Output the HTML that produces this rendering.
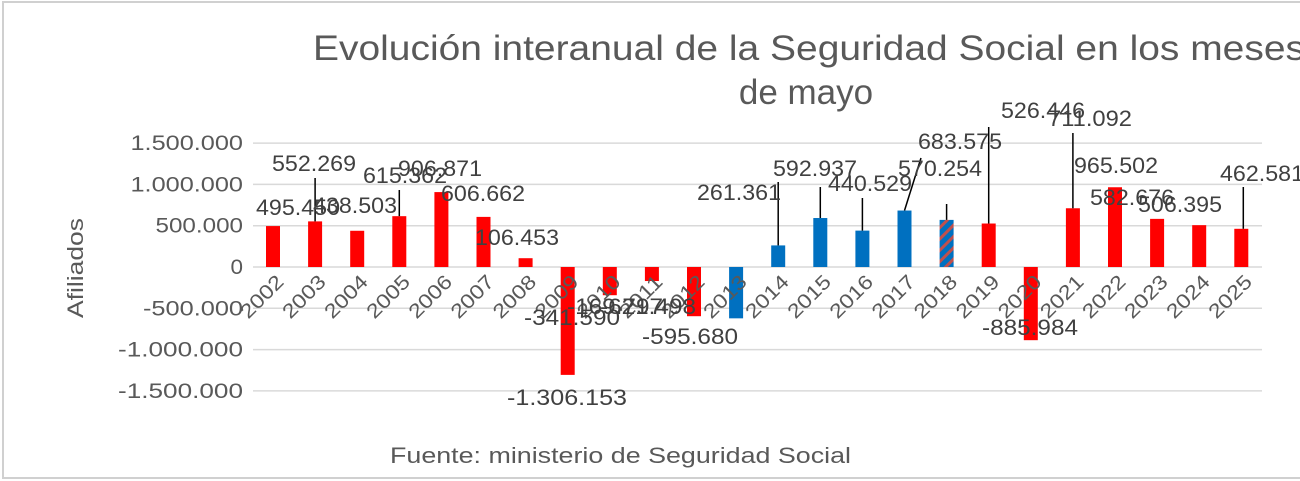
<!DOCTYPE html>
<html><head><meta charset="utf-8"><style>
body{margin:0;background:#fff;}
svg{display:block;font-family:"Liberation Sans","DejaVu Sans",sans-serif;}
</style></head><body>
<svg id="chart" width="1300" height="481" viewBox="0 0 1300 481">
<defs><pattern id="hatch" patternUnits="userSpaceOnUse" width="8" height="8" patternTransform="rotate(45)"><rect width="8" height="8" fill="#0070c0"/><rect width="3" height="8" fill="#c0504d"/></pattern></defs>
<rect x="3" y="2" width="1300" height="476" fill="#fff" stroke="#d0d0d0" stroke-width="2"/>
<text x="313" y="60" font-size="35" fill="#595959" textLength="992" lengthAdjust="spacingAndGlyphs">Evolución interanual de la Seguridad Social en los meses</text>
<text x="806" y="104" font-size="35" fill="#595959" text-anchor="middle">de mayo</text>
<text transform="translate(83,268) rotate(-90)" font-size="22" fill="#595959" text-anchor="middle" textLength="100" lengthAdjust="spacingAndGlyphs">Afiliados</text>
<text x="390" y="463" font-size="22" fill="#595959" textLength="461" lengthAdjust="spacingAndGlyphs">Fuente: ministerio de Seguridad Social</text>
<g id="grid"></g><g id="bars"></g><g id="leaders"></g><g id="labels"></g>
</svg>
<script>
const years = ["2002","2003","2004","2005","2006","2007","2008","2009","2010","2011","2012","2013","2014","2015","2016","2017","2018","2019","2020","2021","2022","2023","2024","2025"];
const values = [495450,552269,438503,615362,906871,606662,106453,-1306153,-341590,-169797,-595680,-621498,261361,592937,440529,683575,570254,526446,-885984,711092,965502,582676,506395,462581];
const valueLabels = ["495.450","552.269","438.503","615.362","906.871","606.662","106.453","-1.306.153","-341.590","-169.797","-595.680","-621.498","261.361","592.937","440.529","683.575","570.254","526.446","-885.984","711.092","965.502","582.676","506.395","462.581"];
const yTicks = [1500000,1000000,500000,0,-500000,-1000000,-1500000];
const yTickLabels = ["1.500.000","1.000.000","500.000","0","-500.000","-1.000.000","-1.500.000"];
const colorGroup = ["r","r","r","r","r","r","r","r","r","r","r","b","b","b","b","b","h","r","r","r","r","r","r","r"];
// label layout (pixel positions, not data)
const labelPos = [[298,214],[314,170],[355,212],[405,182],[440,175],[483,200],[517,244],[567,404],[572,324],[615,313],[690,343],[648,313],[739,199],[815,175],[870,190],[960,148],[940,175],[1043,117],[1030,334],[1090,125],[1116,172],[1132,204],[1180,211],[1262,180]];
const leaderTop = {1:178,3:190,12:182,13:187,14:198,15:158,16:204,17:127,19:133,23:187};

const NS="http://www.w3.org/2000/svg";
const x0=273, step=42.1, zeroY=267, pxPer=41.3/500000, barW=14;
const xs=i=>x0+i*step, ys=v=>zeroY - v*pxPer;
function mk(t,a,p){const e=document.createElementNS(NS,t);for(const k in a)e.setAttribute(k,a[k]);p.appendChild(e);return e;}
const grid=document.getElementById('grid'),bars=document.getElementById('bars'),lead=document.getElementById('leaders'),labs=document.getElementById('labels');
yTicks.forEach((t,i)=>{
  const l=mk('line',{x1:253,x2:1262,y1:ys(t),y2:ys(t),stroke:'#d9d9d9','stroke-width':1.5},grid);
  
  
  const s=yTickLabels[i];
  const tx=mk('text',{x:243,y:ys(t)+7,'font-size':21,fill:'#595959','text-anchor':'end',textLength:s.length*12.5,lengthAdjust:'spacingAndGlyphs'},grid);
  tx.textContent=s;
  
  
});
years.forEach((y,i)=>{
  const v=values[i],top=Math.min(ys(v),zeroY),h=Math.abs(ys(v)-zeroY);
  const fill=colorGroup[i]==='r'?'#ff0000':colorGroup[i]==='b'?'#0070c0':'url(#hatch)';
  const b=mk('rect',{x:xs(i)-barW/2,y:top,width:barW,height:h,fill:fill},bars);
  
  
  const yt=mk('text',{transform:`translate(${xs(i)+12},${zeroY+16}) rotate(-45)`,'font-size':20,fill:'#595959','text-anchor':'end',textLength:52,lengthAdjust:'spacingAndGlyphs'},labs);
  yt.textContent=y;
  
  
  if(leaderTop[i]!==undefined){
    const ln=mk('line',{x1:i===15?921:xs(i)+(i===23?2:0),y1:leaderTop[i],x2:xs(i)+(i===23?2:0),y2:ys(v),stroke:'#000','stroke-width':1.5},lead);
    
    
  }
  const s=valueLabels[i];
  const vt=mk('text',{x:labelPos[i][0],y:labelPos[i][1]+1,'font-size':22,fill:'#404040','text-anchor':'middle',textLength:s.length*12,lengthAdjust:'spacingAndGlyphs'},labs);
  vt.textContent=s;
  
  
});
</script>
</body></html>
